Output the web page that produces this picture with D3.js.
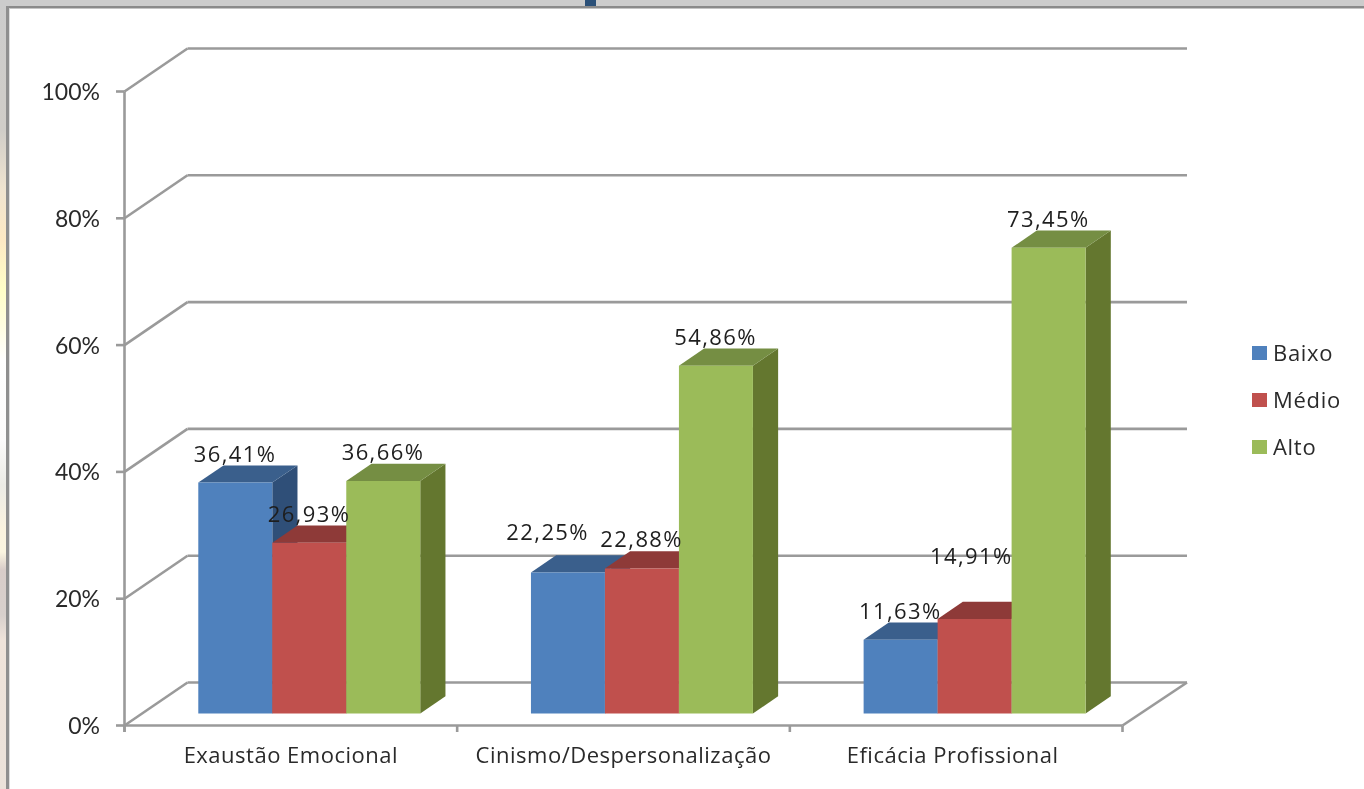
<!DOCTYPE html>
<html><head><meta charset="utf-8">
<script src="https://cdn.jsdelivr.net/npm/d3@7/dist/d3.min.js"></script>
<style>html,body{margin:0;padding:0;background:#fff;overflow:hidden}svg{display:block;filter:blur(0.45px)}text{font-family:"Open Sans","DejaVu Sans",sans-serif}</style>
</head><body><svg id="c" width="1364" height="789"></svg>
<script>
const categories=["Exaustão Emocional","Cinismo/Despersonalização","Eficácia Profissional"];
const seriesNames=["Baixo","Médio","Alto"];
const baixo=[36.41,22.25,11.63];
const medio=[26.93,22.88,14.91];
const alto=[36.66,54.86,73.45];
const yTicks=[0,20,40,60,80,100];
const labels=[["36,41%","22,25%","11,63%"],["26,93%","22,88%","14,91%"],["36,66%","54,86%","73,45%"]];
const front=["#4f81bd","#c0504d","#9bbb59"];
const top_=["#3a5f8c","#8e3a38","#758e43"];
const side=["#2f4f78","#7a3230","#64772f"];
const seriesValues=[baixo,medio,alto];
const svg=d3.select("#c");
const depth={dx:63,dy:-43};
const y=d3.scaleLinear().domain([0,100]).range([725.5,91.5]);
const x0=d3.scaleBand().domain(categories).range([124.5,1122.5]);
const x1=d3.scaleBand().domain(seriesNames).range([0,x0.bandwidth()]).paddingInner(0).paddingOuter(0.748);
const barDepth0=0.28,barDepth1=0.68;
const grid="#9a9a9a";
svg.append("rect").attr("width",1364).attr("height",789).attr("fill","#fff");
const g=svg.append("defs").append("linearGradient").attr("id","lg").attr("gradientUnits","userSpaceOnUse").attr("x1",0).attr("x2",0).attr("y1",0).attr("y2",789);
[[0,"#cccccc"],[130,"#d0cdc8"],[190,"#f0e4d0"],[240,"#fde9c4"],[290,"#ffffc8"],[325,"#fffde0"],[360,"#ffffff"],[440,"#fbfafa"],[485,"#ecebe6"],[530,"#fbf3df"],[552,"#fbf5e0"],[570,"#d8ccc8"],[615,"#d8d0cc"],[640,"#efe3da"],[789,"#ebe2da"]].forEach(s=>g.append("stop").attr("offset",s[0]/789).attr("stop-color",s[1]));
svg.append("rect").attr("x",0).attr("y",0).attr("width",7).attr("height",789).attr("fill","url(#lg)");
svg.append("rect").attr("x",0).attr("y",0).attr("width",1364).attr("height",6).attr("fill","#cccccc");
svg.append("rect").attr("x",585).attr("y",0).attr("width",11).attr("height",6).attr("fill","#2b5078");
svg.append("rect").attr("x",6).attr("y",6).attr("width",1358).attr("height",2.5).attr("fill","#8a8a8a");
svg.append("rect").attr("x",6).attr("y",6).attr("width",3).attr("height",783).attr("fill","#8f8f8f");
svg.append("rect").attr("x",9).attr("y",8.5).attr("width",1).attr("height",781).attr("fill","#dddddd");
const line=(x1_,y1_,x2_,y2_,w=2.6)=>svg.append("line").attr("x1",x1_).attr("y1",y1_).attr("x2",x2_).attr("y2",y2_).attr("stroke",grid).attr("stroke-width",w);
yTicks.forEach(t=>{
  const v=y(t);
  line(124.5,v,124.5+depth.dx,v+depth.dy);
  line(124.5+depth.dx,v+depth.dy,1187,v+depth.dy);
  line(116,v,124.5,v);
  svg.append("text").attr("x",100).attr("y",v+8.5).attr("text-anchor","end").attr("font-size",23).attr("fill","#2a2a2a").style("font-family","Lato").text(t+"%");
});
line(124.5,y(100),124.5,732);
line(124.5,725.5,1122.5,725.5);
line(1122.5,725.5,1187,682.5);
x0.domain().forEach(c=>line(x0(c),725.5,x0(c),732));
line(1122.5,725.5,1122.5,732);
const catNudge=[0,0,-3.5];
categories.forEach((c,i)=>svg.append("text").attr("x",x0(c)+x0.bandwidth()/2+catNudge[i]).attr("y",762.5).attr("text-anchor","middle").attr("font-size",22).attr("letter-spacing",0.5).attr("fill","#2a2a2a").text(c));
const b0=depth.dx*barDepth0, h0=depth.dy*barDepth0;
const ddx=depth.dx*(barDepth1-barDepth0), ddy=depth.dy*(barDepth1-barDepth0);
const nudge={"1-0":[-20,-11],"2-1":[-3,-34]};
const poly=(pts,f)=>svg.append("polygon").attr("points",pts.map(p=>p.join(",")).join(" ")).attr("fill",f);
categories.forEach((c,ci)=>{
  seriesNames.forEach((s,si)=>{
    const v=seriesValues[si][ci];
    const l=x0(c)+x1(s)+b0+0.8, w=x1.bandwidth(), t=y(v)+h0, b=y(0)+h0;
    poly([[l+w,t],[l+w+ddx,t+ddy],[l+w+ddx,b+ddy],[l+w,b]],side[si]);
    poly([[l,t],[l+ddx,t+ddy],[l+w+ddx,t+ddy],[l+w,t]],top_[si]);
    poly([[l,t],[l+w,t],[l+w,b],[l,b]],front[si]);
  });
});
categories.forEach((c,ci)=>seriesNames.forEach((s,si)=>{
  const v=seriesValues[si][ci];
  const n=nudge[ci+"-"+si]||[0,0];
  const cx=x0(c)+x1(s)+b0+0.5+x1.bandwidth()/2;
  svg.append("text").attr("x",cx+n[0]).attr("y",y(v)+h0-21+n[1]).attr("text-anchor","middle").attr("font-size",22).attr("letter-spacing",1.4).attr("fill","#1e1e1e").text(labels[si][ci]);
}));
seriesNames.forEach((s,i)=>{
  const ly=353+i*47;
  svg.append("rect").attr("x",1252).attr("y",ly-7).attr("width",15).attr("height",14).attr("fill",front[i]);
  svg.append("text").attr("x",1273).attr("y",ly+7.5).attr("font-size",22).attr("letter-spacing",0.7).attr("fill","#2a2a2a").text(s);
});
</script></body></html>
